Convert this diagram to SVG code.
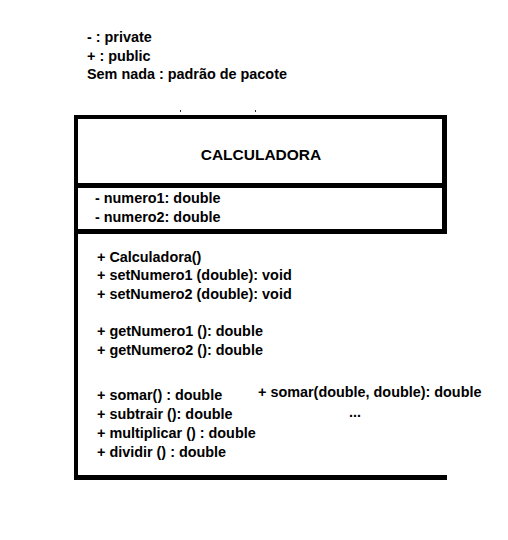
<svg xmlns="http://www.w3.org/2000/svg" width="508" height="540" viewBox="0 0 508 540">
<style>
  text { font-family: "Liberation Sans", Arial, sans-serif; font-weight: bold; font-size: 14.4px; fill: #000; }
  .title { font-size: 15.5px; text-anchor: middle; }
  .bar { fill: #000; }
</style>
<rect x="0" y="0" width="508" height="540" fill="#fff"/>
<g id="legend">
  <text x="87" y="42">- : private</text>
  <text x="87" y="61">+ : public</text>
  <text x="87" y="79">Sem nada : padrão de pacote</text>
</g>
<g id="specks">
  <rect x="180" y="110" width="1" height="2" fill="#333"/>
  <rect x="255" y="110" width="1" height="2" fill="#333"/>
</g>
<g id="calculadora">
  <rect class="bar" x="74" y="115" width="373" height="4"/>
  <rect class="bar" x="74" y="115" width="4" height="365"/>
  <rect class="bar" x="442" y="115" width="5" height="119"/>
  <rect class="bar" x="74" y="183" width="373" height="5"/>
  <rect class="bar" x="74" y="229" width="373" height="5"/>
  <rect class="bar" x="74" y="475" width="373" height="5"/>
  <text class="title" x="261" y="160">CALCULADORA</text>
  <text x="95" y="203">- numero1: double</text>
  <text x="95" y="222">- numero2: double</text>
  <text x="97" y="262">+ Calculadora()</text>
  <text x="97" y="280">+ setNumero1 (double): void</text>
  <text x="97" y="299">+ setNumero2 (double): void</text>
  <text x="97" y="336">+ getNumero1 (): double</text>
  <text x="97" y="355">+ getNumero2 (): double</text>
  <text x="97" y="400">+ somar() : double</text>
  <text x="97" y="419">+ subtrair (): double</text>
  <text x="97" y="438">+ multiplicar () : double</text>
  <text x="97" y="457">+ dividir () : double</text>
  <text x="258" y="397">+ somar(double, double): double</text>
  <text x="349" y="417">...</text>
</g>
<g id="connectors"/>
</svg>
